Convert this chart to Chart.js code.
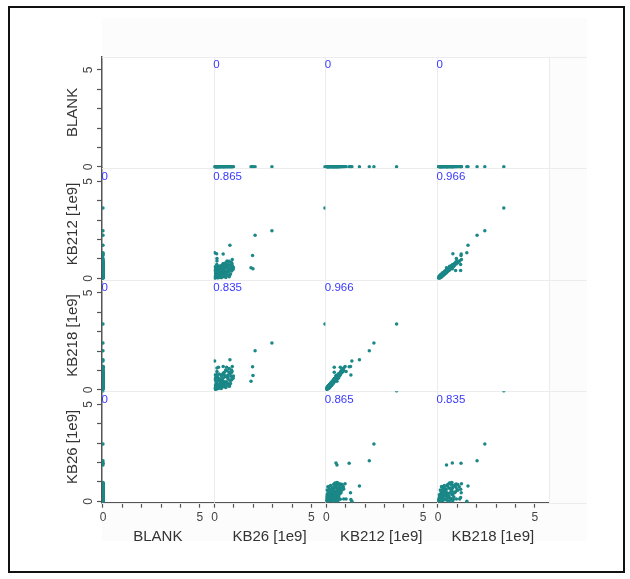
<!DOCTYPE html>
<html>
<head>
<meta charset="utf-8">
<title>Scatter matrix</title>
<script src="https://cdn.jsdelivr.net/npm/chart.js@4/dist/chart.umd.min.js"></script>
<style>
  html, body { margin: 0; padding: 0; background: #fff; }
  #wrap { position: relative; width: 630px; height: 579px; overflow: hidden; }
  #paper { position: absolute; left: 102px; top: 18px; width: 485px; height: 523px; background: #fcfcfc; }
  #frame { position: absolute; left: 8px; top: 6px; width: 613px; height: 563px; border: 2px solid #111; }
  canvas { position: absolute; left: 0; top: 0; }
</style>
</head>
<body>
<div id="wrap">
  <div id="paper"></div>
  <canvas id="splom" width="630" height="579"></canvas>
  <div id="frame"></div>
</div>
<script>
// grid layout: columns and rows use a different variable order
const colVars = ["BLANK", "KB26", "KB212", "KB218"];
const rowVars = ["BLANK", "KB212", "KB218", "KB26"];
const colTitles = ["BLANK", "KB26 [1e9]", "KB212 [1e9]", "KB218 [1e9]"];
const rowTitles = ["BLANK", "KB212 [1e9]", "KB218 [1e9]", "KB26 [1e9]"];

const tickValues = [0, 1, 2, 3, 4, 5];
const tickLabels = [0, 5];

// correlation shown in the top-left corner of each cell
const corrPairs = [["KB26", "KB212"], ["KB26", "KB218"], ["KB212", "KB218"]];
const corrValues = ["0.865", "0.835", "0.966"];
const blankCorr = "0";

// one entry per sample (units of 1e9)
const kb26 = [
  5.70, 2.96, 2.09, 0.79, 0.00, 0.44, 0.91, 1.96, 1.88, 1.98,
  0.10, 0.62, 0.20, 0.50, 0.12, 0.02, 0.05, 0.08, 0.12, 0.15,
  0.18, 0.22, 0.03, 0.06, 0.10, 0.14, 0.20, 0.25, 0.28, 0.32,
  0.35, 0.04, 0.09, 0.17, 0.24, 0.30, 0.38, 0.42, 0.45, 0.48,
  0.52, 0.55, 0.58, 0.62, 0.65, 0.68, 0.72, 0.75, 0.78, 0.82,
  0.85, 0.88, 0.92, 0.95, 0.01, 0.07, 0.13, 0.19, 0.27, 0.33,
  0.40, 0.47, 0.53, 0.60, 0.66, 0.70, 0.80, 0.90, 0.36, 0.23,
  0.11, 0.02, 0.44, 0.57, 0.74, 0.87, 0.64, 0.12, 0.75, 0.86,
  0.40, 0.50, 0.16, 0.29, 0.97, 0.93, 0.03, 0.07, 0.11, 0.16,
  0.21, 0.26, 0.31, 0.37, 0.43, 0.49, 0.56, 0.63, 0.69, 0.77,
  0.84, 0.05, 0.14, 0.24, 0.34, 0.46
];
const kb212 = [
  3.63, 2.46, 2.22, 1.71, 1.32, 1.25, 0.97, 1.18, 0.55, 0.50,
  1.27, 0.72, 0.41, 0.41, 1.02, 0.01, 0.03, 0.06, 0.04, 0.09,
  0.02, 0.07, 0.12, 0.16, 0.20, 0.14, 0.18, 0.11, 0.22, 0.15,
  0.25, 0.26, 0.30, 0.28, 0.33, 0.36, 0.06, 0.19, 0.30, 0.12,
  0.24, 0.38, 0.04, 0.28, 0.16, 0.42, 0.33, 0.08, 0.48, 0.22,
  0.52, 0.38, 0.60, 0.45, 0.40, 0.45, 0.50, 0.55, 0.43, 0.58,
  0.47, 0.62, 0.52, 0.65, 0.56, 0.70, 0.66, 0.74, 0.68, 0.64,
  0.72, 0.60, 0.76, 0.80, 0.84, 0.82, 0.90, 0.90, 0.88, 0.78,
  0.34, 0.40, 0.36, 0.50, 0.55, 0.62, 0.08, 0.22, 0.35, 0.10,
  0.27, 0.05, 0.40, 0.17, 0.55, 0.09, 0.33, 0.20, 0.60, 0.14,
  0.44, 0.52, 0.62, 0.46, 0.03, 0.70
];
const kb218 = [
  3.40, 2.42, 2.02, 1.55, 1.49, 1.20, 1.21, 1.19, 0.44, 0.74,
  0.77, 1.17, 1.17, 0.91, 0.95, 0.06, 0.02, 0.12, 0.10, 0.05,
  0.09, 0.16, 0.08, 0.27, 0.17, 0.24, 0.13, 0.20, 0.33, 0.10,
  0.37, 0.24, 0.40, 0.27, 0.46, 0.34, 0.15, 0.30, 0.28, 0.22,
  0.35, 0.38, 0.12, 0.42, 0.26, 0.58, 0.32, 0.18, 0.49, 0.33,
  0.70, 0.52, 0.62, 0.60, 0.54, 0.44, 0.66, 0.58, 0.57, 0.76,
  0.48, 0.80, 0.68, 0.70, 0.72, 0.76, 0.84, 0.94, 0.72, 0.82,
  0.78, 0.76, 0.86, 1.02, 0.92, 1.02, 0.98, 1.12, 1.10, 0.88,
  0.46, 0.42, 0.48, 0.50, 0.72, 0.60, 0.12, 0.19, 0.42, 0.14,
  0.22, 0.09, 0.46, 0.23, 0.60, 0.16, 0.38, 0.26, 0.66, 0.20,
  0.50, 0.62, 0.70, 0.52, 0.07, 0.80
];
const blank = [
  0, 0, 0, 0, 0, 0, 0, 0, 0, 0,
  0, 0, 0, 0, 0, 0, 0, 0, 0, 0,
  0, 0, 0, 0, 0, 0, 0, 0, 0, 0,
  0, 0, 0, 0, 0, 0, 0, 0, 0, 0,
  0, 0, 0, 0, 0, 0, 0, 0, 0, 0,
  0, 0, 0, 0, 0, 0, 0, 0, 0, 0,
  0, 0, 0, 0, 0, 0, 0, 0, 0, 0,
  0, 0, 0, 0, 0, 0, 0, 0, 0, 0,
  0, 0, 0, 0, 0, 0, 0, 0, 0, 0,
  0, 0, 0, 0, 0, 0, 0, 0, 0, 0,
  0, 0, 0, 0, 0, 0
];

const columns = { BLANK: blank, KB26: kb26, KB212: kb212, KB218: kb218 };

const FONT = "'Liberation Sans', Arial, Helvetica, sans-serif";
const TEAL = "#1b8787";
const AXIS = "#555";

function corrLabel(a, b){
  if (a === b) return null;
  if (a === "BLANK" || b === "BLANK") return blankCorr;
  const i = corrPairs.findIndex(p => (p[0] === a && p[1] === b) || (p[0] === b && p[1] === a));
  return i < 0 ? null : corrValues[i];
}

// one scatter per off-diagonal cell
const datasets = [];
rowVars.forEach((rv, r) => {
  colVars.forEach((cv, c) => {
    if (rv === cv) return;
    const xs = columns[cv];
    const ys = columns[rv];
    datasets.push({
      data: xs.map((x, i) => ({ x, y: ys[i] })),
      xAxisID: "x" + c,
      yAxisID: "y" + r,
      backgroundColor: TEAL,
      borderWidth: 0,
      pointRadius: 1.75,
      pointHoverRadius: 1.75
    });
  });
});

function setTicks(s){ s.ticks = tickValues.map(value => ({ value })); }
function tickText(v){ return tickLabels.includes(v) ? String(v) : ""; }

const scales = {};
colVars.forEach((v, c) => {
  scales["x" + c] = {
    type: "linear", position: "bottom", stack: "cols", stackWeight: 1, weight: c,
    min: -0.05, max: 5.72,
    afterBuildTicks: setTicks,
    afterFit: s => { s.height = 47.5; },
    ticks: { autoSkip: false, maxRotation: 0, padding: 3, color: "#444",
      font: { family: FONT, size: 12 }, callback: tickText },
    grid: { drawOnChartArea: false, tickLength: 5, tickColor: AXIS, tickWidth: 1.2 },
    border: { color: AXIS, width: 1.5 },
    title: { display: true, text: colTitles[c], color: "#333",
      font: { family: FONT, size: 15 }, padding: { top: 4, bottom: 4 } }
  };
});
rowVars.forEach((v, r) => {
  scales["y" + r] = {
    type: "linear", position: "left", stack: "rows", stackWeight: 1, weight: rowVars.length - r,
    min: -0.07, max: 5.68,
    afterBuildTicks: setTicks,
    afterFit: s => { s.width = 42; },
    ticks: { autoSkip: false, minRotation: 90, maxRotation: 90, crossAlign: "center", padding: 5,
      color: "#444", font: { family: FONT, size: 12 }, callback: tickText },
    grid: { drawOnChartArea: false, tickLength: 5, tickColor: AXIS, tickWidth: 1.2 },
    border: { color: AXIS, width: 1.5 },
    title: { display: true, text: rowTitles[r], color: "#333",
      font: { family: FONT, size: 15 }, padding: { top: 4, bottom: 4 } }
  };
});

const splomDecor = {
  id: "splomDecor",
  beforeDraw(chart){
    const { ctx, chartArea: a } = chart;
    ctx.save();
    ctx.fillStyle = "#ffffff";
    ctx.fillRect(a.left, a.top, a.right - a.left, a.bottom - a.top);
    ctx.restore();
  },
  beforeDatasetsDraw(chart){
    const { ctx, chartArea: a } = chart;
    const ext = a.right + 38;
    ctx.save();
    ctx.strokeStyle = "#ececec";
    ctx.lineWidth = 1;
    ctx.beginPath();
    ctx.moveTo(a.left, Math.round(a.top) + 0.5);
    ctx.lineTo(ext, Math.round(a.top) + 0.5);
    colVars.forEach((v, c) => {
      const px = Math.round(chart.scales["x" + c].right) + 0.5;
      ctx.moveTo(px, a.top);
      ctx.lineTo(px, a.bottom);
    });
    rowVars.forEach((v, r) => {
      const py = Math.round(chart.scales["y" + r].bottom) + 0.5;
      ctx.moveTo(a.left, py);
      ctx.lineTo(ext, py);
    });
    ctx.stroke();
    ctx.restore();
  },
  afterDatasetsDraw(chart){
    const { ctx } = chart;
    ctx.save();
    ctx.fillStyle = "#3838ff";
    ctx.font = "11.5px " + FONT;
    ctx.textAlign = "left";
    ctx.textBaseline = "alphabetic";
    rowVars.forEach((rv, r) => {
      colVars.forEach((cv, c) => {
        const text = corrLabel(rv, cv);
        if (!text) return;
        const xs = chart.scales["x" + c];
        const ys = chart.scales["y" + r];
        ctx.fillText(text, xs.getPixelForValue(0) - 1.5, ys.top + 11.4);
      });
    });
    ctx.restore();
  }
};

new Chart(document.getElementById("splom"), {
  type: "scatter",
  data: { datasets },
  options: {
    responsive: false,
    animation: false,
    layout: { padding: { left: 60, right: 81.3, top: 56.7, bottom: 28.8 } },
    plugins: { legend: { display: false }, tooltip: { enabled: false } },
    scales
  },
  plugins: [splomDecor]
});
</script>
</body>
</html>
